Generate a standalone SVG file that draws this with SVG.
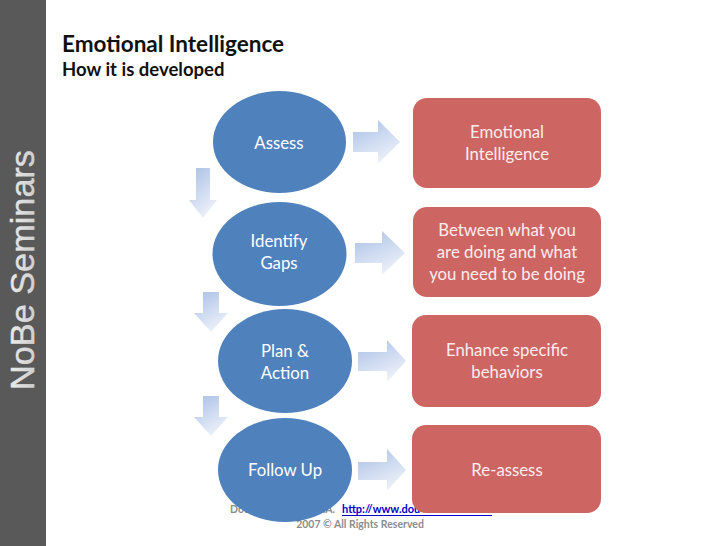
<svg xmlns="http://www.w3.org/2000/svg" width="728" height="546" viewBox="0 0 728 546">
<defs>
<linearGradient id="gArrow" x1="0" y1="0" x2="0.5" y2="1">
<stop offset="0" stop-color="#A9BFE5"/>
<stop offset="1" stop-color="#EBF0F9"/>
</linearGradient>
<linearGradient id="gSilver" x1="0" y1="0" x2="0" y2="1">
<stop offset="0" stop-color="#F4F4F4"/>
<stop offset="1" stop-color="#C4C4C4"/>
</linearGradient>
<style>
.ell{fill:#4F81BD;}
.box{fill:#CD6563;}
.t{font-family:Lato,"Liberation Sans",sans-serif;font-size:16.8px;fill:#FFFFFF;text-anchor:middle;}
.tb{font-family:Lato,"Liberation Sans",sans-serif;font-size:16.8px;fill:#FBEDED;text-anchor:middle;}
.arr{fill:url(#gArrow);}
.foot{font-family:Lato,"Liberation Sans",sans-serif;font-size:10.5px;font-weight:bold;fill:#8C8C8C;}
</style>
</defs>
<rect x="0" y="0" width="728" height="546" fill="#FFFFFF"/>
<g id="sidebar">
<rect x="0" y="0" width="46" height="546" fill="#595959"/>
<text transform="translate(34,270) rotate(-90)" text-anchor="middle" font-family="'Liberation Sans',Arial,sans-serif" font-size="33" fill="url(#gSilver)" stroke="#E6E6E6" stroke-width="0.4" textLength="240" lengthAdjust="spacingAndGlyphs">NoBe Seminars</text>
</g>
<g id="title">
<text x="62" y="52" font-family="Lato,'Liberation Sans',sans-serif" font-size="22.5" font-weight="bold" fill="#111111">Emotional Intelligence</text>
<text x="62" y="76" font-family="Lato,'Liberation Sans',sans-serif" font-size="18.5" font-weight="bold" fill="#111111">How it is developed</text>
</g>
<g id="footer">
<text class="foot" x="230" y="513">Doug</text>
<text class="foot" x="335" y="513" text-anchor="end">.A.</text>
<text x="342" y="513" font-family="Lato,'Liberation Sans',sans-serif" font-size="11" font-weight="bold" fill="#0000CC">http://www.dou</text>
<line x1="342" y1="515.5" x2="492" y2="515.5" stroke="#0000CC" stroke-width="1"/>
<text class="foot" x="360" y="528" text-anchor="middle">2007 © All Rights Reserved</text>
</g>
<g id="connectors">
<path class="arr" d="M196,168 H210 V200 H217 L203,218 L189,200 H196 Z"/>
<path class="arr" d="M203,292 H219 V313 H228 L211,332 L194,313 H203 Z"/>
<path class="arr" d="M203,396 H219 V417 H228 L211,436 L194,417 H203 Z"/>
<path class="arr" d="M353,132 H378 V120 L400,142 L378,164 V152 H353 Z"/>
<path class="arr" d="M355,243 H382 V231 L405,253 L382,275 V263 H355 Z"/>
<path class="arr" d="M358,352 H387 V340 L406,361 L387,382 V371 H358 Z"/>
<path class="arr" d="M358,462 H387 V449 L406,470 L387,491 V480 H358 Z"/>
</g>
<g id="assess">
<ellipse class="ell" cx="279.5" cy="142" rx="66.5" ry="51"/>
<text class="t" x="279" y="149">Assess</text>
</g>
<g id="identify-gaps">
<ellipse class="ell" cx="279.5" cy="254" rx="67" ry="52"/>
<text class="t" x="279" y="247">Identify</text>
<text class="t" x="279" y="269">Gaps</text>
</g>
<g id="plan-action">
<ellipse class="ell" cx="285" cy="361" rx="67" ry="52"/>
<text class="t" x="285" y="357">Plan &amp;</text>
<text class="t" x="285" y="379">Action</text>
</g>
<g id="follow-up">
<ellipse class="ell" cx="285" cy="470" rx="67" ry="52"/>
<text class="t" x="285" y="476">Follow Up</text>
</g>
<g id="emotional-intelligence">
<rect class="box" x="413" y="98" width="188" height="90" rx="14"/>
<text class="tb" x="507" y="138">Emotional</text>
<text class="tb" x="507" y="160">Intelligence</text>
</g>
<g id="between">
<rect class="box" x="413" y="207" width="188" height="90" rx="14"/>
<text class="tb" x="507" y="236">Between what you</text>
<text class="tb" x="507" y="258">are doing and what</text>
<text class="tb" x="507" y="280">you need to be doing</text>
</g>
<g id="enhance">
<rect class="box" x="412" y="315" width="189" height="92" rx="14"/>
<text class="tb" x="507" y="356">Enhance specific</text>
<text class="tb" x="507" y="378">behaviors</text>
</g>
<g id="re-assess">
<rect class="box" x="412" y="425" width="189" height="88" rx="14"/>
<text class="tb" x="507" y="476">Re-assess</text>
</g>
</svg>
